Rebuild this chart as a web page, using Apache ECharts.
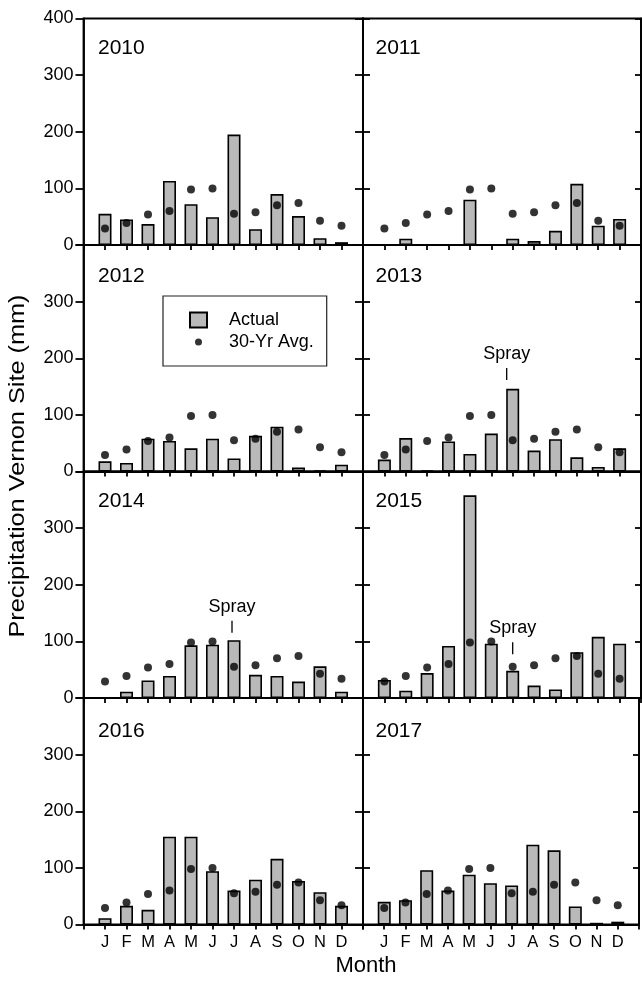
<!DOCTYPE html>
<html><head><meta charset="utf-8">
<script src="https://cdn.jsdelivr.net/npm/echarts@6/dist/echarts.min.js"></script>
<style>html,body{margin:0;padding:0;background:#fff}#c{width:642px;height:982px}</style>
</head><body><div id="c"></div>
<script>
// ---- data ----
const months = ['J','F','M','A','M','J','J','A','S','O','N','D'];
const years = ['2010','2011','2012','2013','2014','2015','2016','2017'];
const yTickValues = [0, 100, 200, 300, 400];
const avg30 = [29, 39, 54, 60, 98, 100, 55, 58, 70, 74, 43, 34];
const actual2010 = [55, 45, 37, 113, 72, 49, 195, 28, 90, 51, 12, 5];
const actual2011 = [0, 11, 0, 0, 80, 0, 11, 7, 25, 108, 34, 46];
const actual2012 = [18, 15, 58, 54, 41, 58, 23, 63, 79, 7, 2, 12];
const actual2013 = [21, 59, 2, 53, 31, 67, 146, 37, 57, 25, 8, 41];
const actual2014 = [0, 11, 31, 39, 93, 94, 102, 41, 39, 29, 56, 11];
const actual2015 = [32, 13, 44, 92, 358, 96, 48, 22, 15, 81, 108, 96];
const actual2016 = [11, 33, 26, 155, 155, 94, 60, 79, 116, 77, 57, 33];
const actual2017 = [40, 43, 96, 60, 88, 73, 69, 141, 131, 32, 3, 5];
const sprayYears = ['2013', '2014', '2015'];
const sprayMonth = 7;           // July (1-based month number)
const sprayLevel = [172, 126, 88];
// ---- end data ----

const allActual = [actual2010, actual2011, actual2012, actual2013, actual2014, actual2015, actual2016, actual2017];
const FONT = '"Liberation Sans", Arial, sans-serif';
const colLeft = [83.5, 363];
const colWidth = [279.5, 278];
const rowTop = [18.5, 245, 471.5, 698];
const rowH = 226.5;
const sprayDx = {'2013': -6, '2014': -2, '2015': 0};
const cats = ['', ...months, ''];
const pad = a => [null, ...a, null];
const line = {color: '#000', width: 1.8};

const grid = [], xAxis = [], yAxis = [], series = [], graphic = [];
years.forEach((yr, i) => {
  const r = Math.floor(i / 2), c = i % 2;
  grid.push({left: colLeft[c], top: rowTop[r], width: colWidth[c], height: rowH,
    show: true, borderColor: '#000', borderWidth: 1.8, backgroundColor: 'transparent'});
  xAxis.push({type: 'category', gridIndex: i, data: cats, boundaryGap: false,
    axisLine: {show: true, lineStyle: line},
    axisTick: {show: true, interval: 0, length: 5, lineStyle: line},
    axisLabel: {show: r === 3, interval: 0, fontSize: 16.5, color: '#000', margin: 9, fontFamily: FONT},
    splitLine: {show: false}});
  yAxis.push({type: 'value', gridIndex: i, position: 'left', min: yTickValues[0], max: yTickValues[yTickValues.length - 1], interval: yTickValues[1] - yTickValues[0],
    axisLine: {show: true, lineStyle: line},
    axisTick: {show: true, inside: false, length: 8, lineStyle: line},
    axisLabel: {show: c === 0, fontSize: 18, color: '#000', margin: 10, fontFamily: FONT,
      formatter: v => (v === 400 && r > 0) ? '' : String(v)},
    splitLine: {show: false}});
  yAxis.push({type: 'value', gridIndex: i, position: 'right', min: yTickValues[0], max: yTickValues[yTickValues.length - 1], interval: yTickValues[1] - yTickValues[0],
    axisLine: {show: true, lineStyle: line},
    axisTick: {show: true, inside: c === 1, length: c === 0 ? 7 : 6, lineStyle: line},
    axisLabel: {show: false}, splitLine: {show: false}});
  const bar = {type: 'bar', name: 'Actual', xAxisIndex: i, yAxisIndex: 2 * i, data: pad(allActual[i]),
    barWidth: 13, itemStyle: {color: '#b9b9b9', borderColor: '#000', borderWidth: 1.6}, silent: true, animation: false};
  const si = sprayYears.indexOf(yr);
  if (si >= 0) {
    bar.markPoint = {silent: true, symbol: 'rect', symbolSize: [1.3, 12], symbolOffset: [sprayDx[yr], 0],
      itemStyle: {color: '#000'},
      label: {show: true, position: 'top', formatter: 'Spray', fontSize: 18, color: '#000', distance: 5, fontFamily: FONT},
      data: [{coord: [sprayMonth, sprayLevel[si]]}]};
  }
  series.push(bar);
  series.push({type: 'scatter', name: '30-Yr Avg.', xAxisIndex: i, yAxisIndex: 2 * i, data: pad(avg30),
    symbolSize: 8, itemStyle: {color: '#000'}, z: 3, silent: true, animation: false});
  graphic.push({type: 'text', x: colLeft[c] + (c === 0 ? 14.5 : 12.5), y: [48.5, 276.5, 501.5, 731.5][r],
    style: {text: yr, fontSize: 21, fontFamily: FONT, fill: '#000', textAlign: 'left', textVerticalAlign: 'middle'}});
});

graphic.push({type: 'text', x: 18, y: 466, rotation: Math.PI / 2, scaleX: 1.15,
  style: {text: 'Precipitation Vernon Site (mm)', fontSize: 22, fontFamily: FONT, fill: '#000', textAlign: 'center', textVerticalAlign: 'middle'}});
graphic.push({type: 'text', x: 366, y: 966,
  style: {text: 'Month', fontSize: 22, fontFamily: FONT, fill: '#000', textAlign: 'center', textVerticalAlign: 'middle'}});

const dotIcon = 'path://M0,0L0.01,0M17,15L16.99,15M5,7.5A3.5,3.5,0,1,0,12,7.5A3.5,3.5,0,1,0,5,7.5Z';

const chart = echarts.init(document.getElementById('c'));
chart.setOption({
  animation: false,
  textStyle: {fontFamily: FONT},
  grid, xAxis, yAxis, series, graphic,
  legend: {
    data: [{name: 'Actual', icon: 'rect'}, {name: '30-Yr Avg.', icon: dotIcon}],
    orient: 'vertical', left: 163, top: 296, itemWidth: 17, itemHeight: 15, itemGap: 4,
    padding: [15, 13, 15, 26], borderColor: '#222', borderWidth: 1.2,
    textStyle: {fontSize: 18, color: '#000', fontFamily: FONT, padding: [0, 0, 0, 17]},
    selectedMode: false
  }
});
</script></body></html>
